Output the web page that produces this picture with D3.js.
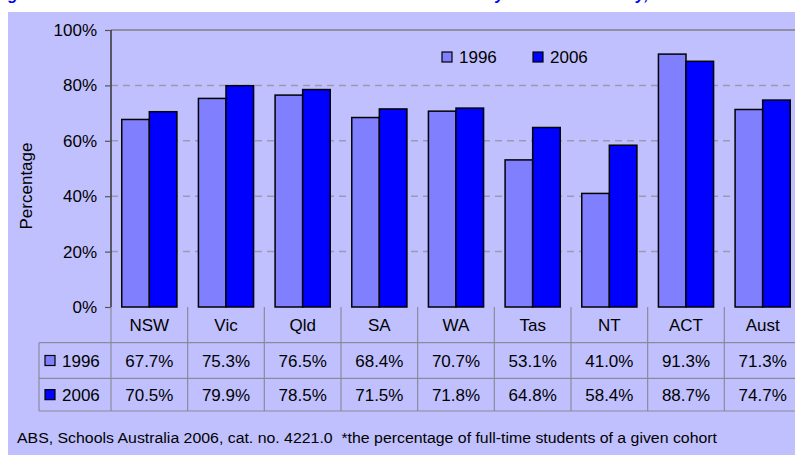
<!DOCTYPE html>
<html><head><meta charset="utf-8">
<script src="https://cdn.jsdelivr.net/npm/d3@7"></script>
<style>body{margin:0;background:#fff}svg{display:block;font-family:"Liberation Sans",Arial,sans-serif}</style>
</head><body><svg id="c" width="795" height="455"></svg>
<script>
const categories = ["NSW","Vic","Qld","SA","WA","Tas","NT","ACT","Aust"];
const series = ["1996","2006"];
const values1996 = [67.7,75.3,76.5,68.4,70.7,53.1,41.0,91.3,71.3];
const values2006 = [70.5,79.9,78.5,71.5,71.8,64.8,58.4,88.7,74.7];
const yTicks = [0,20,40,60,80,100];
const colors = {"1996":"#8080FF","2006":"#0000FF"};
const titleText = "Figure 6: Year 10 to Year 12 retention rates* of full-time students by state and territory, 1996 and 2006";
const footText = "ABS, Schools Australia 2006, cat. no. 4221.0\u00A0\u00A0*the percentage of full-time students of a given cohort";

const svg = d3.select("#c");
const valueBy = {"1996":values1996,"2006":values2006};

// title (cropped at the top edge, as in the reference)
svg.append("text").attr("x",-6).attr("y",0).attr("font-size",16).attr("font-weight","bold")
  .attr("font-style","italic").attr("fill","#0000FF").text(titleText);

// panel
svg.append("rect").attr("x",8).attr("y",12).attr("width",800).attr("height",450).attr("fill","#C0C0FF");

const pL=111, pR=801, pT=30, pB=307;
const x = d3.scaleBand().domain(categories).range([pL,pR]);
const x1 = d3.scaleBand().domain(series).range([0,x.bandwidth()]).paddingOuter(0.39);
const y = d3.scaleLinear().domain([0,100]).range([pB,pT]);

// gridlines
const g = svg.append("g");
g.selectAll("line.grid").data(yTicks.filter(t=>t>0&&t<100)).join("line")
  .attr("x1",pL).attr("x2",pR).attr("y1",d=>y(d)).attr("y2",d=>y(d))
  .attr("stroke","#9a9aae").attr("stroke-width",1.5).attr("stroke-dasharray","7,5");
g.append("line").attr("x1",pL).attr("x2",pR).attr("y1",y(100)).attr("y2",y(100))
  .attr("stroke","#808080").attr("stroke-width",1.5);

// bars
const groups = svg.append("g").selectAll("g").data(categories).join("g")
  .attr("transform",d=>`translate(${x(d)},0)`);
groups.selectAll("rect").data((d,i)=>series.map(s=>({s,v:valueBy[s][i]}))).join("rect")
  .attr("x",d=>x1(d.s)).attr("width",x1.bandwidth())
  .attr("y",d=>y(d.v)).attr("height",d=>y(0)-y(d.v))
  .attr("fill",d=>colors[d.s]).attr("stroke","#000").attr("stroke-width",1.5);

// y axis
const ax = svg.append("g").attr("transform",`translate(${pL},0)`)
  .call(d3.axisLeft(y).tickValues(yTicks).tickFormat(d=>d+"%").tickSize(6).tickPadding(8));
ax.select(".domain").attr("stroke","#333").attr("stroke-width",1.5).attr("d",`M0,${pT}V${pB}`);
ax.selectAll(".tick line").attr("stroke","#555").attr("stroke-width",1.2);
ax.selectAll(".tick text").attr("font-size",17).attr("fill","#000").attr("font-family","Liberation Sans, Arial, sans-serif");

svg.append("text").attr("transform","translate(32,186) rotate(-90)").attr("text-anchor","middle")
  .attr("font-size",17).text("Percentage");

// legend
const leg = svg.append("g");
[["1996",442],["2006",533]].forEach(([s,lx])=>{
  leg.append("rect").attr("x",lx).attr("y",52).attr("width",10).attr("height",10)
    .attr("fill",colors[s]).attr("stroke","#000").attr("stroke-width",1.2);
  leg.append("text").attr("x",lx+17).attr("y",63).attr("font-size",17).text(s);
});

// data table
const rowY = [pB, 342.7, 378.3, 411];
const tbl = svg.append("g");
const lineC = "#8a8a9a";
[1,2,3].forEach(r=>{
  tbl.append("line").attr("x1",39).attr("x2",pR).attr("y1",rowY[r]).attr("y2",rowY[r]).attr("stroke",lineC).attr("stroke-width",1.2);
});
categories.forEach(c=>{
  tbl.append("line").attr("x1",x(c)).attr("x2",x(c)).attr("y1",pB).attr("y2",rowY[3]).attr("stroke",lineC).attr("stroke-width",1.2);
});
tbl.append("line").attr("x1",39).attr("x2",39).attr("y1",rowY[1]).attr("y2",rowY[3]).attr("stroke",lineC).attr("stroke-width",1.2);
tbl.selectAll("text.cat").data(categories).join("text").attr("class","cat")
  .attr("x",d=>x(d)+x.bandwidth()/2).attr("y",(rowY[0]+rowY[1])/2+6).attr("text-anchor","middle")
  .attr("font-size",17).text(d=>d);
series.forEach((s,si)=>{
  const cy = (rowY[si+1]+rowY[si+2])/2+6;
  tbl.append("rect").attr("x",45).attr("y",cy-11).attr("width",10).attr("height",10)
    .attr("fill",colors[s]).attr("stroke","#000").attr("stroke-width",1.2);
  tbl.append("text").attr("x",62).attr("y",cy).attr("font-size",17).text(s);
  tbl.selectAll("text.v"+s).data(valueBy[s]).join("text").attr("class","v"+s)
    .attr("x",(d,i)=>x(categories[i])+x.bandwidth()/2).attr("y",cy).attr("text-anchor","middle")
    .attr("font-size",17).text(d=>d.toFixed(1)+"%");
});

// footer
svg.append("text").attr("x",17).attr("y",443).attr("font-size",14)
  .attr("textLength",700).attr("lengthAdjust","spacingAndGlyphs").text(footText);
</script></body></html>
